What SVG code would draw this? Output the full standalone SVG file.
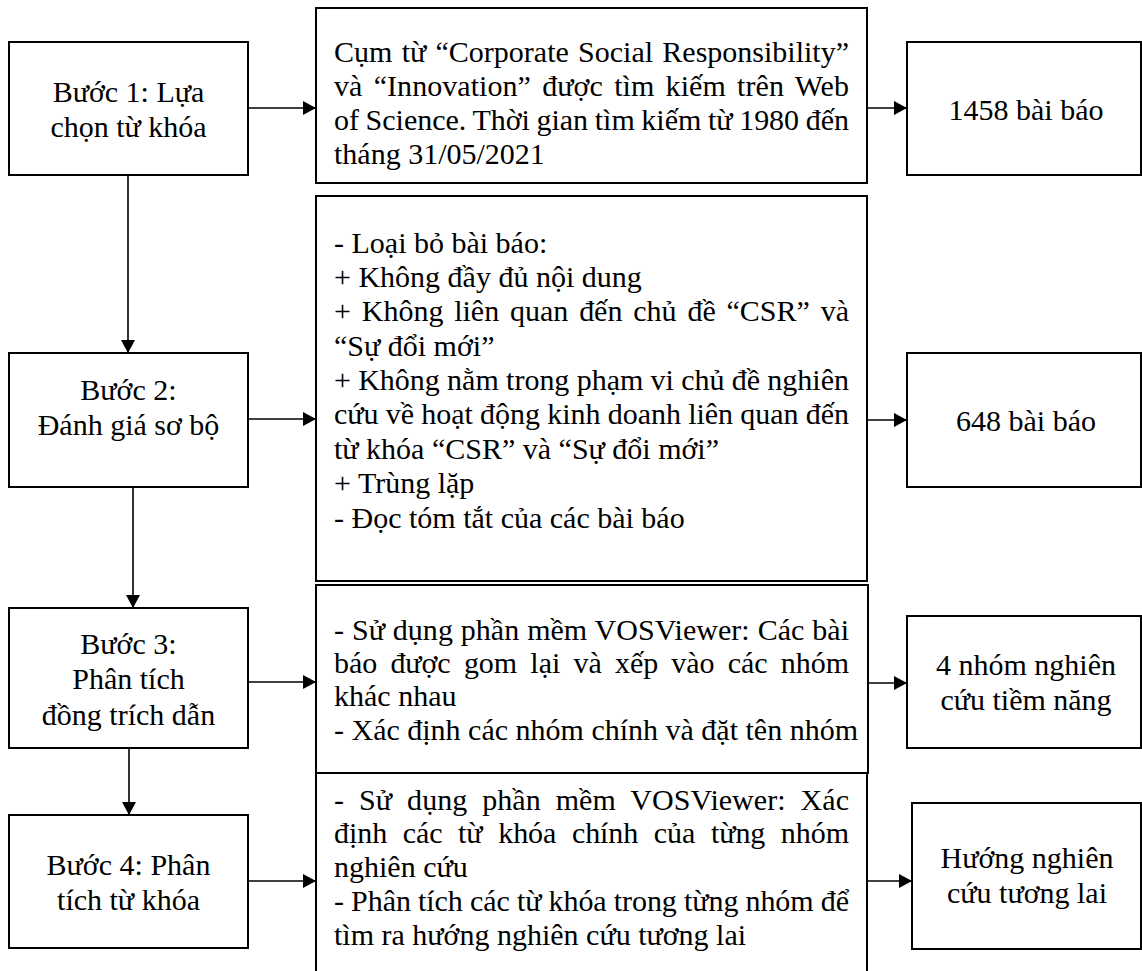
<svg xmlns="http://www.w3.org/2000/svg" width="1142" height="971" viewBox="0 0 1142 971">
<defs>
<style>
.box{fill:#fff;stroke:#000;stroke-width:2}
.t{font-family:"Liberation Serif","Times New Roman",serif;font-size:30px;fill:#000}
.c{text-anchor:middle}
.conn line{stroke:#000;stroke-width:1.6;fill:none}
</style>
<marker id="ah" markerUnits="userSpaceOnUse" markerWidth="14" markerHeight="14" refX="13" refY="7" orient="auto">
<path d="M0,0 L13,7 L0,14 z" fill="#000"/>
</marker>
</defs>
<rect width="1142" height="971" fill="#fff"/>

<g class="conn">
<line x1="248" y1="108" x2="316" y2="108" marker-end="url(#ah)"/>
<line x1="867" y1="108" x2="907" y2="108" marker-end="url(#ah)"/>
<line x1="128" y1="175" x2="128" y2="353" marker-end="url(#ah)"/>
<line x1="248" y1="419" x2="316" y2="419" marker-end="url(#ah)"/>
<line x1="867" y1="420" x2="907" y2="420" marker-end="url(#ah)"/>
<line x1="133" y1="487" x2="133" y2="608" marker-end="url(#ah)"/>
<line x1="248" y1="682" x2="316" y2="682" marker-end="url(#ah)"/>
<line x1="868" y1="683" x2="907" y2="683" marker-end="url(#ah)"/>
<line x1="129" y1="748" x2="129" y2="815" marker-end="url(#ah)"/>
<line x1="248" y1="881" x2="316" y2="881" marker-end="url(#ah)"/>
<line x1="867" y1="881" x2="912" y2="881" marker-end="url(#ah)"/>
</g>

<g id="step1">
<rect class="box" x="9" y="42" width="239" height="133"/>
<text class="t c" x="128.5" y="102">Bước 1: Lựa</text>
<text class="t c" x="128.5" y="137">chọn từ khóa</text>
</g>
<g id="desc1">
<rect class="box" x="316" y="8" width="551" height="175"/>
<text class="t" x="334" y="62" word-spacing="1.8" textLength="515" lengthAdjust="spacing">Cụm từ “Corporate Social Responsibility”</text>
<text class="t" x="334" y="96" word-spacing="3.7" textLength="515" lengthAdjust="spacing">và “Innovation” được tìm kiếm trên Web</text>
<text class="t" x="334" y="130" word-spacing="-0.85" textLength="515" lengthAdjust="spacing">of Science. Thời gian tìm kiếm từ 1980 đến</text>
<text class="t" x="334" y="164">tháng 31/05/2021</text>
</g>
<g id="result1">
<rect class="box" x="907" y="42" width="234" height="133"/>
<text class="t c" x="1026" y="120">1458 bài báo</text>
</g>

<g id="step2">
<rect class="box" x="9" y="353" width="239" height="134"/>
<text class="t c" x="128.5" y="400">Bước 2:</text>
<text class="t c" x="128.5" y="435">Đánh giá sơ bộ</text>
</g>
<g id="desc2">
<rect class="box" x="316" y="196" width="551" height="385"/>
<text class="t" x="334" y="253">- Loại bỏ bài báo:</text>
<text class="t" x="334" y="287">+ Không đầy đủ nội dung</text>
<text class="t" x="334" y="321" word-spacing="3.3" textLength="515" lengthAdjust="spacing">+ Không liên quan đến chủ đề “CSR” và</text>
<text class="t" x="334" y="356">“Sự đổi mới”</text>
<text class="t" x="334" y="390" word-spacing="-0.24" textLength="515" lengthAdjust="spacing">+ Không nằm trong phạm vi chủ đề nghiên</text>
<text class="t" x="334" y="424" word-spacing="-0.2" textLength="515" lengthAdjust="spacing">cứu về hoạt động kinh doanh liên quan đến</text>
<text class="t" x="334" y="459">từ khóa “CSR” và “Sự đổi mới”</text>
<text class="t" x="334" y="493">+ Trùng lặp</text>
<text class="t" x="334" y="528">- Đọc tóm tắt của các bài báo</text>
</g>
<g id="result2">
<rect class="box" x="907" y="353" width="234" height="134"/>
<text class="t c" x="1026" y="431">648 bài báo</text>
</g>

<g id="step3">
<rect class="box" x="9" y="608" width="239" height="140"/>
<text class="t c" x="128.5" y="654">Bước 3:</text>
<text class="t c" x="128.5" y="689">Phân tích</text>
<text class="t c" x="128.5" y="725">đồng trích dẫn</text>
</g>
<g id="desc3">
<rect class="box" x="316" y="585" width="552" height="188"/>
<text class="t" x="334" y="640" word-spacing="0.37" textLength="515" lengthAdjust="spacing">- Sử dụng phần mềm VOSViewer: Các bài</text>
<text class="t" x="334" y="673" word-spacing="5.85" textLength="515" lengthAdjust="spacing">báo được gom lại và xếp vào các nhóm</text>
<text class="t" x="334" y="706">khác nhau</text>
<text class="t" x="334" y="740">- Xác định các nhóm chính và đặt tên nhóm</text>
</g>
<g id="result3">
<rect class="box" x="907" y="616" width="234" height="132"/>
<text class="t c" x="1026" y="675">4 nhóm nghiên</text>
<text class="t c" x="1026" y="710">cứu tiềm năng</text>
</g>

<g id="step4">
<rect class="box" x="9" y="815" width="239" height="133"/>
<text class="t c" x="128.5" y="875">Bước 4: Phân</text>
<text class="t c" x="128.5" y="910">tích từ khóa</text>
</g>
<g id="desc4">
<rect class="box" x="316" y="773" width="551" height="220"/>
<text class="t" x="334" y="810" word-spacing="7.5" textLength="515" lengthAdjust="spacing">-  Sử dụng phần mềm VOSViewer: Xác</text>
<text class="t" x="334" y="843" word-spacing="8.2" textLength="515" lengthAdjust="spacing">định các từ khóa chính của từng nhóm</text>
<text class="t" x="334" y="877">nghiên cứu</text>
<text class="t" x="334" y="911" word-spacing="-0.27" textLength="515" lengthAdjust="spacing">- Phân tích các từ khóa trong từng nhóm để</text>
<text class="t" x="334" y="945">tìm ra hướng nghiên cứu tương lai</text>
</g>
<g id="result4">
<rect class="box" x="912" y="803" width="229" height="146"/>
<text class="t c" x="1027" y="868">Hướng nghiên</text>
<text class="t c" x="1027" y="903">cứu tương lai</text>
</g>
</svg>
